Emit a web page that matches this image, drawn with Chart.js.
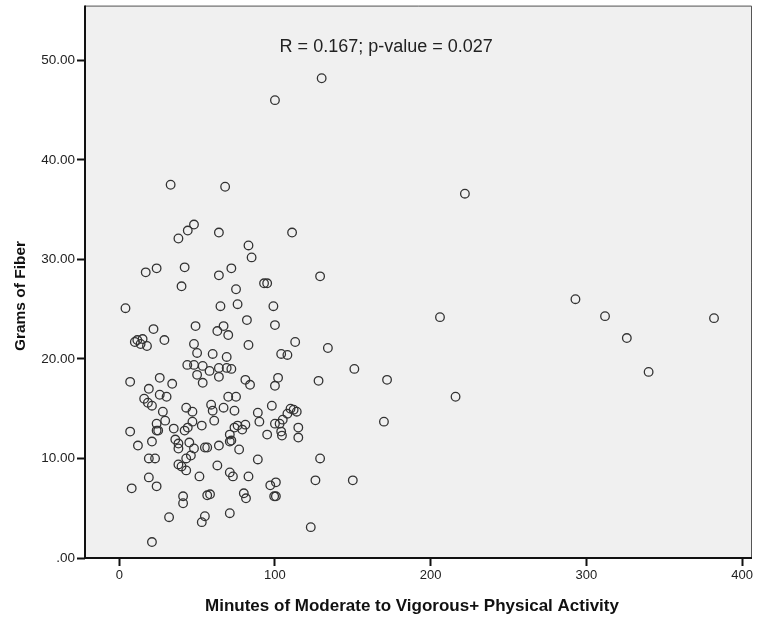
<!DOCTYPE html>
<html>
<head>
<meta charset="utf-8">
<script src="https://cdn.jsdelivr.net/npm/chart.js@4/dist/chart.umd.min.js"></script>
<style>
html,body{margin:0;padding:0;background:#fff;}
#wrap{width:766px;height:623px;}
</style>
</head>
<body>
<div id="wrap"><canvas id="c" width="766" height="623"></canvas></div>
<script>
// Minutes of MVPA (x) and grams of fiber (y)
const minutes = [
130,100,33,68,222,48,44,38,64,111,83,85,17,24,42,64,72,129,40,75,93,95,4,65,76,99,
293,312,382,326,340,206,151,172,216,170,150,134,82,100,63,67,70,83,113,104,108,60,69,
53.6,58,64,69,72,64,53.6,81,84,102,100,128,70,75,59,60,67,74,98,89,110,112,114,108,
61,53,90,100,103,105,115,74,76,79,81,71,95,104,104.5,115,71,72,55,56.5,64,77,63,71,73,
83,89,129,97,100.6,100.6,99.5,126,56.5,58.3,80,81.4,55,53,71,123,51.5,7,12,21,19,23,24,
24,25,29.5,35,42,44,47,36,38,38,45,48,46,43,38,40,43,19,24,8,41,41,32,21,22,49,29,10,
11.6,15,13.7,17.8,48,50,43.7,48,50,7,26,34,19,26,30.4,16,18.4,21,28,43,47
];
const fiber = [
48.2,46.0,37.5,37.3,36.6,33.5,32.9,32.1,32.7,32.7,31.4,30.2,28.7,29.1,29.2,28.4,29.1,28.3,27.3,27.0,27.6,27.6,25.1,25.3,25.5,25.3,
26.0,24.3,24.1,22.1,18.7,24.2,19.0,17.9,16.2,13.7,7.8,21.1,23.9,23.4,22.8,23.3,22.4,21.4,21.7,20.5,20.4,20.5,20.2,
19.3,18.8,19.1,19.1,19.0,18.2,17.6,17.9,17.4,18.1,17.3,17.8,16.2,16.2,15.4,14.8,15.1,14.8,15.3,14.6,15.0,14.9,14.7,14.5,
13.8,13.3,13.7,13.5,13.5,13.9,13.1,13.1,13.3,12.9,13.4,12.4,12.4,12.7,12.3,12.1,11.7,11.8,11.1,11.1,11.3,10.9,9.3,8.6,8.2,
8.2,9.9,10.0,7.3,7.6,6.2,6.2,7.8,6.3,6.4,6.5,6.0,4.2,3.6,4.5,3.1,8.2,12.7,11.3,11.7,10.0,10.0,13.5,
12.8,12.8,13.8,13.0,12.8,13.1,13.7,11.9,11.5,11.0,11.6,11.0,10.3,10.0,9.4,9.2,8.8,8.1,7.2,7.0,6.2,5.5,4.1,1.6,23.0,23.3,21.9,21.7,
21.9,22.0,21.5,21.3,21.5,20.6,19.4,19.4,18.4,17.7,18.1,17.5,17.0,16.4,16.2,16.0,15.6,15.3,14.7,15.1,14.7
];
const xTicks = [0, 100, 200, 300, 400];
const yTicks = [0, 10, 20, 30, 40, 50];
const yTickLabels = ['.00', '10.00', '20.00', '30.00', '40.00', '50.00'];
const xTitle = 'Minutes of Moderate to Vigorous+ Physical Activity';
const yTitle = 'Grams of Fiber';
const annotationText = 'R = 0.167; p-value = 0.027';
const annotationAt = [103, 51.3];

const points = minutes.map((m, i) => ({x: m, y: fiber[i]}));
const FONT = '"Liberation Sans", Arial, sans-serif';

const frame = {
  id: 'frame',
  beforeDatasetsDraw(chart) {
    const {ctx, chartArea: a} = chart;
    ctx.save();
    ctx.fillStyle = '#f0f0f0';
    ctx.fillRect(a.left, a.top, a.right - a.left, a.bottom - a.top);
    ctx.restore();
  },
  afterDraw(chart) {
    const {ctx, chartArea: a} = chart;
    ctx.save();
    ctx.strokeStyle = '#555';
    ctx.lineWidth = 1;
    ctx.beginPath();
    ctx.moveTo(a.left, a.top + 0.5);
    ctx.lineTo(a.right - 0.5, a.top + 0.5);
    ctx.lineTo(a.right - 0.5, a.bottom);
    ctx.stroke();
    ctx.strokeStyle = '#111';
    ctx.lineWidth = 2;
    ctx.beginPath();
    ctx.moveTo(a.left, a.top);
    ctx.lineTo(a.left, a.bottom);
    ctx.lineTo(a.right, a.bottom);
    ctx.stroke();
    const xs = chart.scales.x, ys = chart.scales.y;
    // annotation
    ctx.fillStyle = '#222';
    ctx.font = '18px ' + FONT;
    ctx.textBaseline = 'middle';
    ctx.textAlign = 'left';
    ctx.fillText(annotationText, xs.getPixelForValue(annotationAt[0]), ys.getPixelForValue(annotationAt[1]));
    // axis titles
    ctx.fillStyle = '#111';
    ctx.textAlign = 'center';
    ctx.font = 'bold 17px ' + FONT;
    ctx.fillText(xTitle, 412, 606);
    ctx.translate(21, 296);
    ctx.rotate(-Math.PI / 2);
    ctx.font = 'bold 15.5px ' + FONT;
    ctx.fillText(yTitle, 0, 0);
    ctx.restore();
  }
};

new Chart(document.getElementById('c'), {
  type: 'scatter',
  data: {
    datasets: [{
      data: points,
      pointStyle: 'circle',
      pointRadius: 4.3,
      pointBorderWidth: 1.3,
      pointBorderColor: '#333',
      pointBackgroundColor: 'rgba(0,0,0,0)',
      pointHoverRadius: 4.3
    }]
  },
  options: {
    responsive: false,
    animation: false,
    events: [],
    layout: {padding: {top: 5, right: 14, left: 0, bottom: 0}},
    plugins: {legend: {display: false}, tooltip: {enabled: false}},
    scales: {
      x: {
        type: 'linear',
        min: -22,
        max: 406.4,
        afterBuildTicks: s => { s.ticks = xTicks.map(v => ({value: v})); },
        afterFit: s => { s.height = 65; s.paddingLeft = 0; s.paddingRight = 0; },
        grid: {display: true, drawOnChartArea: false, drawTicks: true, tickLength: 8, tickColor: '#111', tickWidth: 2},
        border: {display: false},
        ticks: {color: '#222', font: {family: FONT, size: 13}, padding: 2, maxRotation: 0},
        title: {display: false}
      },
      y: {
        type: 'linear',
        min: 0,
        max: 55.5,
        afterBuildTicks: s => { s.ticks = yTicks.map(v => ({value: v})); },
        afterFit: s => { s.width = 85; s.paddingTop = 0; s.paddingBottom = 0; },
        grid: {display: true, drawOnChartArea: false, drawTicks: true, tickLength: 8, tickColor: '#111', tickWidth: 2},
        border: {display: false},
        ticks: {color: '#222', font: {family: FONT, size: 13.5}, padding: 2,
          callback: (v) => { const i = yTicks.indexOf(v); return i >= 0 ? yTickLabels[i] : ''; }},
        title: {display: false}
      }
    }
  },
  plugins: [frame]
});
</script>
</body>
</html>
